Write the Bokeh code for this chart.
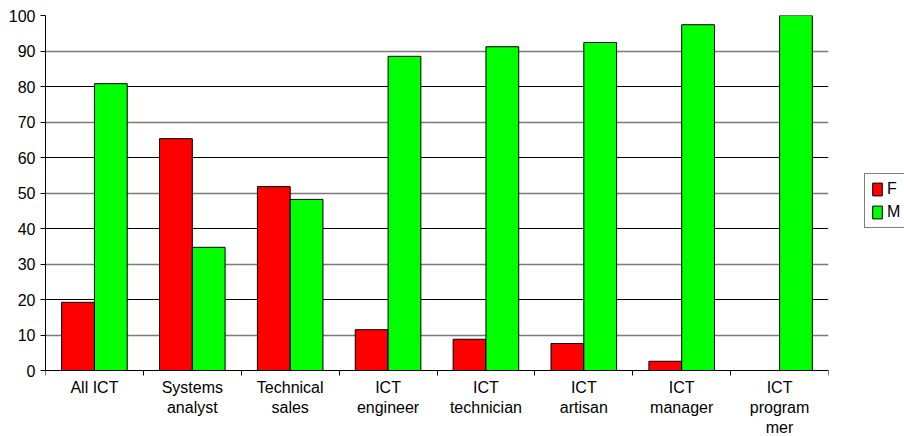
from bokeh.plotting import figure
from bokeh.layouts import row
from bokeh.models import ColumnDataSource, Range1d, FixedTicker, Legend, LegendItem, Grid
from bokeh.transform import dodge
from bokeh.embed import file_html
from bokeh.resources import INLINE

categories = ["All ICT", "Systems\nanalyst", "Technical\nsales", "ICT\nengineer",
              "ICT\ntechnician", "ICT\nartisan", "ICT\nmanager", "ICT\nprogram\nmer"]
female = [19.2, 65.3, 51.8, 11.5, 8.8, 7.6, 2.6, 0.0]
male = [80.8, 34.7, 48.2, 88.5, 91.2, 92.4, 97.4, 100.0]
y_ticks = [0, 10, 20, 30, 40, 50, 60, 70, 80, 90, 100]
series = ["F", "M"]
colors = ["#FF0000", "#00FF00"]

FONT = "Liberation Sans"
n = len(categories)
centers = [i + 0.5 for i in range(n)]
source = ColumnDataSource(dict(x=centers, F=female, M=male))

# the frame extends below y=0 so that the category labels have room under the axis
p = figure(width=850, height=436, x_range=Range1d(0, n), y_range=Range1d(-18.59, 100),
           output_backend="svg", toolbar_location=None,
           min_border_left=45, min_border_right=22, min_border_top=15, min_border_bottom=0)
p.outline_line_color = None
p.background_fill_color = "white"
p.border_fill_color = "white"

p.vbar(x=dodge("x", -0.1675, range=p.x_range), top=series[0], width=0.335, source=source,
       fill_color=colors[0], line_color="black", line_width=1)
p.vbar(x=dodge("x", 0.1675, range=p.x_range), top=series[1], width=0.335, source=source,
       fill_color=colors[1], line_color="black", line_width=1)

# x axis at y=0: labels at group centres, ticks at group boundaries
xa = p.xaxis[0]
xa.fixed_location = 0
xa.ticker = FixedTicker(ticks=centers, minor_ticks=list(range(n + 1)))
xa.major_label_overrides = {c: lab for c, lab in zip(centers, categories)}
xa.major_tick_line_color = None
xa.major_tick_out = 5
xa.major_tick_in = 0
xa.minor_tick_line_color = "black"
xa.minor_tick_out = 5
xa.minor_tick_in = 0
xa.major_label_standoff = 3
xa.major_label_text_font = FONT
xa.major_label_text_font_size = "16px"
xa.major_label_text_color = "black"
xa.axis_line_color = "black"

ya = p.yaxis[0]
ya.bounds = (0, 100)
ya.ticker = FixedTicker(ticks=y_ticks)
ya.major_tick_in = 0
ya.major_tick_out = 5
ya.minor_tick_line_color = None
ya.major_label_standoff = 5
ya.major_label_text_font = FONT
ya.major_label_text_font_size = "16px"
ya.major_label_text_color = "black"
ya.axis_line_color = "black"
ya.major_tick_line_color = "black"

# gridlines: every other line appears softer grey in the reference
p.xgrid.visible = False
p.ygrid.ticker = FixedTicker(ticks=y_ticks[0::2])
p.ygrid.grid_line_color = "black"
p.ygrid.grid_line_alpha = 1.0
p.add_layout(Grid(dimension=1, ticker=FixedTicker(ticks=y_ticks[1::2]),
                  grid_line_color="#7a7a7a", grid_line_width=1.6))

# legend panel on the right (its bars lie outside its visible range)
lg = figure(width=54, height=436, x_range=Range1d(0, n), y_range=Range1d(1000, 1001),
            output_backend="svg", toolbar_location=None,
            min_border_left=0, min_border_right=0, min_border_top=0, min_border_bottom=0)
lg.axis.visible = False
lg.grid.visible = False
lg.outline_line_color = None
items = []
for name, col in zip(series, colors):
    r = lg.vbar(x="x", top=name, width=0.335, source=source,
                fill_color=col, line_color="black", line_width=1)
    items.append(LegendItem(label=name, renderers=[r]))

legend = Legend(items=items, location=(14, 208))
legend.glyph_width = 12
legend.glyph_height = 16
legend.label_text_font = FONT
legend.label_text_font_size = "16px"
legend.label_text_color = "black"
legend.label_height = 16
legend.label_standoff = 4
legend.spacing = 5
legend.padding = 6
legend.margin = 0
legend.border_line_color = "black"
legend.border_line_width = 1
legend.background_fill_alpha = 1.0
lg.add_layout(legend)

layout = row(p, lg, spacing=0)
open("out.html", "w").write(file_html(layout, INLINE))
